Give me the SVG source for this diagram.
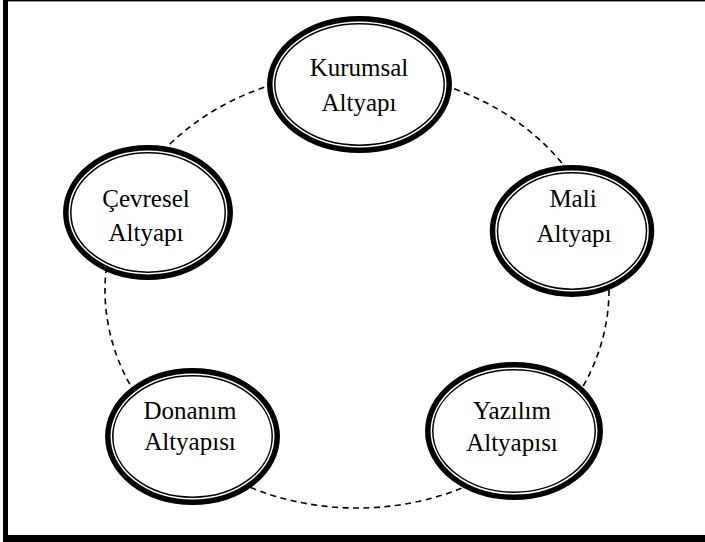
<svg xmlns="http://www.w3.org/2000/svg" width="705" height="542" viewBox="0 0 705 542">
<style>
.outer{fill:#fff;stroke:#000;stroke-width:5.5}
.inner{fill:none;stroke:#000;stroke-width:1.5}
.lbl{font-family:"Liberation Serif","Times New Roman",serif;font-size:25px;fill:#000;text-anchor:middle}
.dash{fill:none;stroke:#000;stroke-width:1.6;stroke-dasharray:6 4.5}
</style>
<rect width="705" height="542" fill="#fff"/>
<g id="frame">
<rect x="3" y="0" width="702" height="1.4" fill="#000"/>
<rect x="3" y="0" width="5" height="542" fill="#000"/>
<rect x="3" y="535" width="702" height="7" fill="#000"/>
</g>
<g id="connectors">
<ellipse class="dash" cx="357" cy="290" rx="252" ry="218"/>
</g>
<g id="kurumsal">
<ellipse class="outer" cx="359.5" cy="84.5" rx="89.7" ry="65.7"/>
<ellipse class="inner" cx="359.5" cy="84.5" rx="84.7" ry="60.7"/>
<text class="lbl" x="359" y="76">Kurumsal</text>
<text class="lbl" x="359" y="111">Altyapı</text>
</g>
<g id="mali">
<ellipse class="outer" cx="572" cy="231" rx="79.5" ry="63.2"/>
<ellipse class="inner" cx="572" cy="231" rx="74.5" ry="58.2"/>
<text class="lbl" x="573" y="207">Mali</text>
<text class="lbl" x="574" y="241.5">Altyapı</text>
</g>
<g id="cevresel">
<ellipse class="outer" cx="148" cy="212.5" rx="82.2" ry="64.7"/>
<ellipse class="inner" cx="148" cy="212.5" rx="77.2" ry="59.7"/>
<text class="lbl" x="146" y="207">Çevresel</text>
<text class="lbl" x="146" y="241">Altyapı</text>
</g>
<g id="donanim">
<ellipse class="outer" cx="192.5" cy="436.5" rx="84.7" ry="65.7"/>
<ellipse class="inner" cx="192.5" cy="436.5" rx="79.7" ry="60.7"/>
<text class="lbl" x="190" y="419">Donanım</text>
<text class="lbl" x="190" y="450">Altyapısı</text>
</g>
<g id="yazilim">
<ellipse class="outer" cx="514" cy="431" rx="86.2" ry="66.2"/>
<ellipse class="inner" cx="514" cy="431" rx="81.2" ry="61.2"/>
<text class="lbl" x="512" y="419">Yazılım</text>
<text class="lbl" x="512" y="450.5">Altyapısı</text>
</g>
</svg>
